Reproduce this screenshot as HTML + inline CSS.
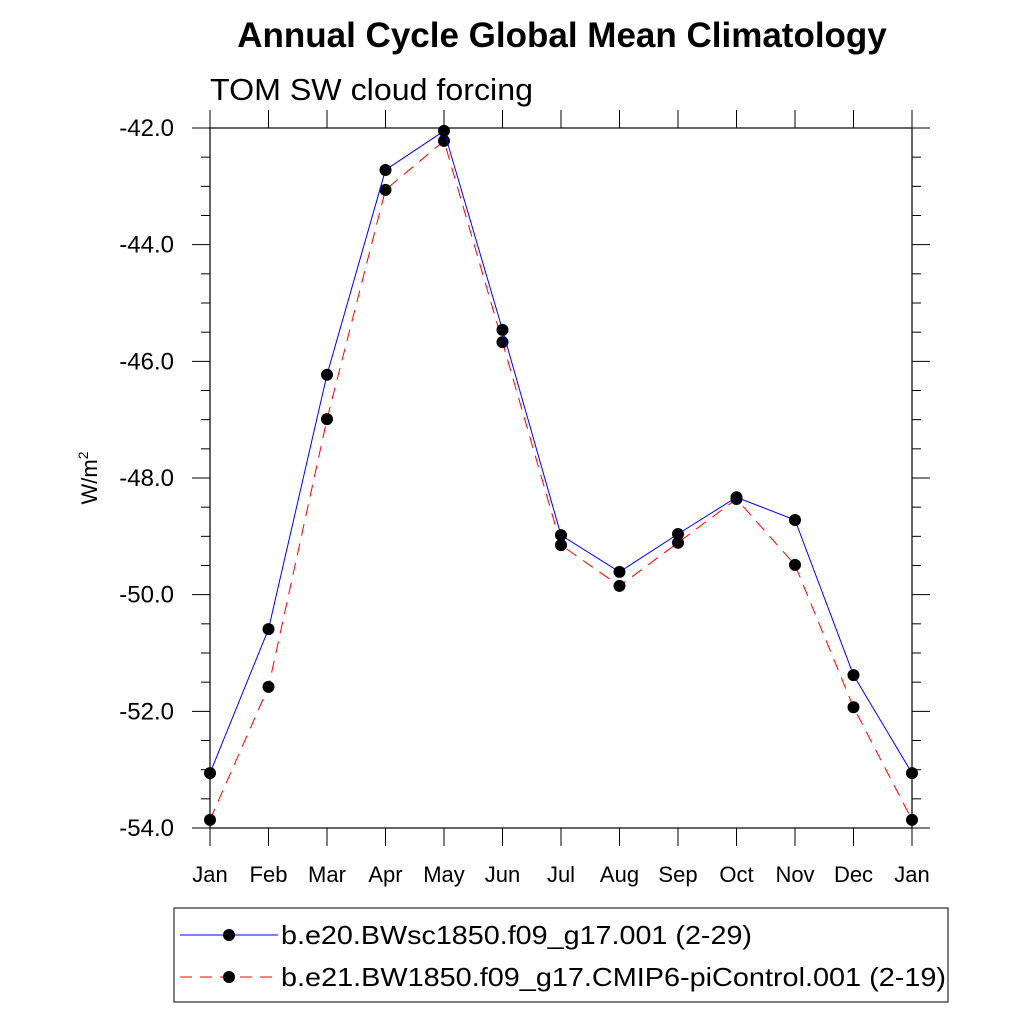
<!DOCTYPE html>
<html><head><meta charset="utf-8"><style>
body{margin:0;background:#fff;}
svg text{font-family:"Liberation Sans",sans-serif;}
</style></head><body>
<svg id="chart" width="1024" height="1024" xmlns="http://www.w3.org/2000/svg">
<text x="562" y="47" text-anchor="middle" font-size="35" font-weight="bold">Annual Cycle Global Mean Climatology</text>
<text x="210" y="100" font-size="31" textLength="323" lengthAdjust="spacingAndGlyphs">TOM SW cloud forcing</text>
<text transform="translate(97,478) rotate(-90)" text-anchor="middle" font-size="22">W/m<tspan dy="-9" font-size="14">2</tspan></text>
<g id="axes"></g>
<g id="series"></g>
<g>
<rect x="174" y="908" width="774" height="94" fill="#fff" stroke="#000" stroke-width="1"/>
<line x1="180" y1="935" x2="278" y2="935" stroke="#00f" stroke-width="1"/>
<circle cx="229" cy="935" r="6" fill="#000"/>
<text x="281" y="944" font-size="26" textLength="471" lengthAdjust="spacingAndGlyphs">b.e20.BWsc1850.f09_g17.001 (2-29)</text>
<line x1="180" y1="977" x2="278" y2="977" stroke="#f00" stroke-width="1" stroke-dasharray="12,8"/>
<circle cx="229" cy="977" r="6" fill="#000"/>
<text x="281" y="986" font-size="26" textLength="665" lengthAdjust="spacingAndGlyphs">b.e21.BW1850.f09_g17.CMIP6-piControl.001 (2-19)</text>
</g>
</svg>
<script>
const months=["Jan","Feb","Mar","Apr","May","Jun","Jul","Aug","Sep","Oct","Nov","Dec","Jan"];
const blueVals=[-53.06,-50.59,-46.23,-42.72,-42.05,-45.46,-48.98,-49.61,-48.96,-48.33,-48.72,-51.38,-53.06];
const redVals=[-53.86,-51.58,-46.99,-43.06,-42.22,-45.67,-49.15,-49.85,-49.11,-48.36,-49.49,-51.93,-53.86];
const yTicks=[-42,-44,-46,-48,-50,-52,-54];
const NS="http://www.w3.org/2000/svg";
const L=210,R=912,T=128,B=828,ymin=-54,ymax=-42;
const xs=i=>L+(R-L)*i/(months.length-1);
const ys=v=>B-(v-ymin)/(ymax-ymin)*(B-T);
function mk(tag,attrs,parent){const e=document.createElementNS(NS,tag);for(const k in attrs)e.setAttribute(k,attrs[k]);parent.appendChild(e);return e;}
const ax=document.getElementById('axes');
const frame=mk('rect',{x:L,y:T,width:R-L,height:B-T,fill:'none',stroke:'#000','stroke-width':1.2},ax);


for(let v=ymin;v<=ymax+1e-9;v+=0.5){
  const y=ys(v);const major=Math.abs(v%2)<1e-9;const len=major?18:9;
  mk('line',{x1:L,y1:y,x2:L-len,y2:y,stroke:'#000'},ax);
  mk('line',{x1:R,y1:y,x2:R+len,y2:y,stroke:'#000'},ax);
}
yTicks.forEach(v=>{
  const t=mk('text',{x:174,y:ys(v)+8,'text-anchor':'end','font-size':24},ax);
  t.textContent=v.toFixed(1);
  
  
});
months.forEach((m,i)=>{
  const x=xs(i);
  mk('line',{x1:x,y1:B,x2:x,y2:B+18,stroke:'#000'},ax);
  mk('line',{x1:x,y1:T,x2:x,y2:T-18,stroke:'#000'},ax);
  const t=mk('text',{x:x,y:882,'text-anchor':'middle','font-size':22},ax);
  t.textContent=m;
  
  
});
const sg=document.getElementById('series');
function series(vals,color,dash,name){
  const pl=mk('polyline',{points:vals.map((v,i)=>xs(i)+','+ys(v)).join(' '),fill:'none',stroke:color,'stroke-width':1,'stroke-dasharray':dash},sg);
  
  
  vals.forEach((v,i)=>{
    const c=mk('circle',{cx:xs(i),cy:ys(v),r:6,fill:'#000'},sg);
    
    
  });
}
series(redVals,'#f00','12,8','red-series');
series(blueVals,'#00f','none','blue-series');
</script>
</body></html>
